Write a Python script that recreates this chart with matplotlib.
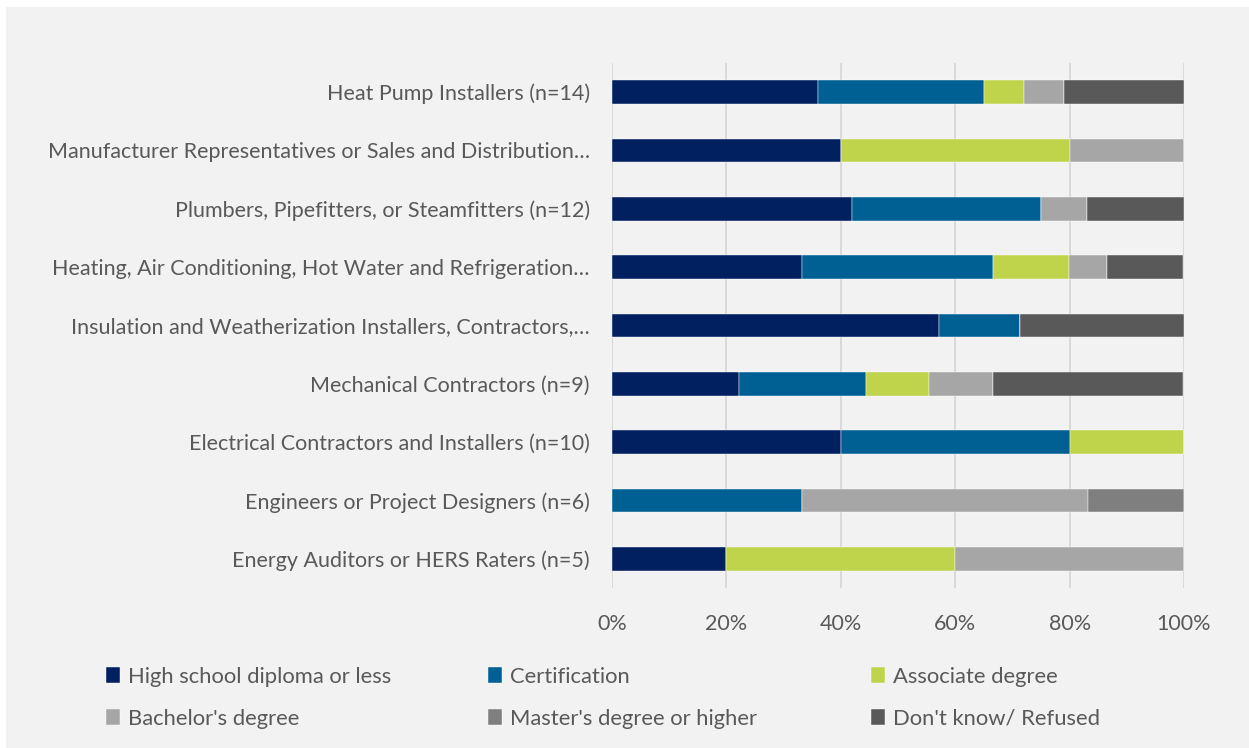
import matplotlib.pyplot as plt
import matplotlib.patches as mpatches
import numpy as np

plt.rcParams['font.family'] = ['Lato', 'DejaVu Sans']

# categories from bottom to top
categories = [
    "Energy Auditors or HERS Raters (n=5)",
    "Engineers or Project Designers (n=6)",
    "Electrical Contractors and Installers (n=10)",
    "Mechanical Contractors (n=9)",
    "Insulation and Weatherization Installers, Contractors,\u2026",
    "Heating, Air Conditioning, Hot Water and Refrigeration\u2026",
    "Plumbers, Pipefitters, or Steamfitters (n=12)",
    "Manufacturer Representatives or Sales and Distribution\u2026",
    "Heat Pump Installers (n=14)",
]

series = [
    "High school diploma or less",
    "Certification",
    "Associate degree",
    "Bachelor's degree",
    "Master's degree or higher",
    "Don't know/ Refused",
]

high_school = [20, 0, 40, 22.2, 57.1, 33.3, 42, 40, 36]
certification = [0, 33.3, 40, 22.2, 14.3, 33.3, 33, 0, 29]
associate = [40, 0, 20, 11.1, 0, 13.3, 0, 40, 7]
bachelor = [40, 50, 0, 11.1, 0, 6.7, 8, 20, 7]
master = [0, 16.7, 0, 0, 0, 0, 0, 0, 0]
dont_know = [0, 0, 0, 33.3, 28.6, 13.3, 17, 0, 21]

colors = ["#002060", "#006094", "#bfd44b", "#a6a6a6", "#7f7f7f", "#595959"]
text_color = "#595959"
bg = "#f2f2f2"

fig = plt.figure(figsize=(12.49, 7.48), dpi=100)
fig.patch.set_facecolor("white")
fig.patches.append(mpatches.Rectangle((6 / 1249, 0), 1, 1 - 7 / 748,
                                      transform=fig.transFigure,
                                      facecolor=bg, edgecolor="none", zorder=-5))

ax = fig.add_axes([612 / 1249, 1 - 588 / 748, 572 / 1249, 525 / 748])
ax.patch.set_alpha(0)

y = np.arange(len(categories))
left = np.zeros(len(categories))
handles = []
for name, vals, c in zip(series,
                         [high_school, certification, associate, bachelor, master, dont_know],
                         colors):
    vals = np.array(vals) / 100.0
    h = ax.barh(y, vals, left=left, height=0.41, color=c, edgecolor="white",
                linewidth=0.3, label=name, zorder=3)
    handles.append(h)
    left += vals

ax.set_xlim(0, 1)
ax.set_ylim(-0.5, len(categories) - 0.5)
ax.set_xticks(np.arange(0, 1.01, 0.2))
ax.set_xticklabels(["0%", "20%", "40%", "60%", "80%", "100%"])
ax.set_yticks(y)
ax.set_yticklabels(categories)
ax.grid(axis="x", color="#d9d9d9", linewidth=1.4, zorder=0)
for s in ax.spines.values():
    s.set_visible(False)
ax.tick_params(axis="both", length=0, labelsize=15.5, colors=text_color)
ax.tick_params(axis="x", pad=19)
ax.tick_params(axis="y", pad=16)

# legend, three columns of two rows
col_x = [106 / 1249, 488 / 1249, 871 / 1249]
for i in range(3):
    leg = fig.legend(handles=[handles[i], handles[i + 3]],
                     labels=[series[i], series[i + 3]],
                     loc="upper left", bbox_to_anchor=(col_x[i], 1 - 667 / 748),
                     frameon=False, fontsize=15.8, handlelength=0.65,
                     handleheight=0.75, handletextpad=0.35,
                     labelspacing=0.98, borderaxespad=0, borderpad=0)
    for t in leg.get_texts():
        t.set_color(text_color)

fig.savefig("out.png", dpi=100, facecolor=fig.get_facecolor())
